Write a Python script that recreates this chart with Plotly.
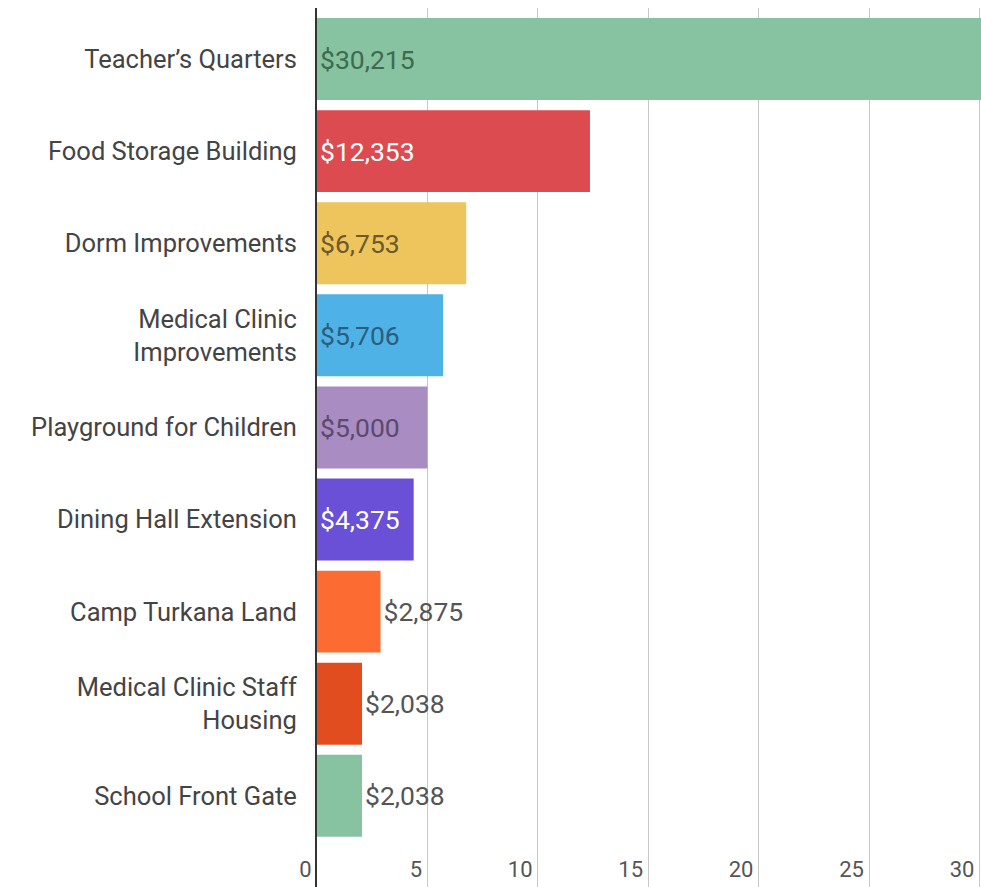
import plotly.graph_objects as go

categories = ["Teacher’s Quarters", "Food Storage Building", "Dorm Improvements",
              "Medical Clinic<br>Improvements", "Playground for Children",
              "Dining Hall Extension", "Camp Turkana Land",
              "Medical Clinic Staff<br>Housing", "School Front Gate"]
values = [30.215, 12.353, 6.753, 5.706, 5.000, 4.375, 2.875, 2.038, 2.038]
labels = ["$30,215", "$12,353", "$6,753", "$5,706", "$5,000", "$4,375",
          "$2,875", "$2,038", "$2,038"]
bar_colors = ["#87c2a1", "#dc4b50", "#eec45c", "#4fb2e6", "#a88cc2",
              "#6950d6", "#fc6b32", "#e24d20", "#87c2a1"]
text_colors = ["#3d6b50", "#ffffff", "#6b5a2c", "#2a5d7e", "#5a4a6b",
               "#ffffff", "#555555", "#555555", "#555555"]
text_positions = ["inside", "inside", "inside", "inside", "inside", "inside",
                  "outside", "outside", "outside"]
x_ticks = [0, 5, 10, 15, 20, 25, 30]

fig = go.Figure(go.Bar(
    y=categories, x=values, orientation="h",
    marker=dict(color=bar_colors, line=dict(width=0)),
    text=labels, textposition=text_positions, insidetextanchor="start",
    textfont=dict(family="Roboto", size=26.5, color=text_colors),
    outsidetextfont=dict(family="Roboto", size=26.5, color="#555555"),
    cliponaxis=True,
    constraintext="none",
))

fig.update_layout(
    width=981, height=887,
    margin=dict(l=317, r=0, t=8, b=0, autoexpand=False),
    paper_bgcolor="white", plot_bgcolor="white",
    bargap=0.11,
    showlegend=False,
    font=dict(family="Roboto", size=24, color="#444444"),
)
fig.update_xaxes(
    range=[0, 30.05], tickvals=x_ticks,
    ticktext=[str(t) + "\u00a0" for t in x_ticks],
    showgrid=True, gridcolor="#c8c8c8", gridwidth=1.2,
    zeroline=False, showline=False, automargin=False,
    ticklabelposition="inside left", ticklabeloverflow="allow",
    tickfont=dict(family="Roboto", size=22, color="#555555"),
)
fig.update_yaxes(
    type="category", categoryorder="array", categoryarray=categories,
    range=[8.99, -0.554], automargin=False,
    showgrid=False, zeroline=False,
    showline=True, linecolor="#333333", linewidth=2,
    ticks="", ticklabelstandoff=13,
    tickfont=dict(family="Roboto", size=25.5, color="#444444"),
)

fig.write_html(
    "out.html",
    config={"displayModeBar": False},
    post_script="document.body.style.margin='0';document.body.style.overflow='hidden';",
)
